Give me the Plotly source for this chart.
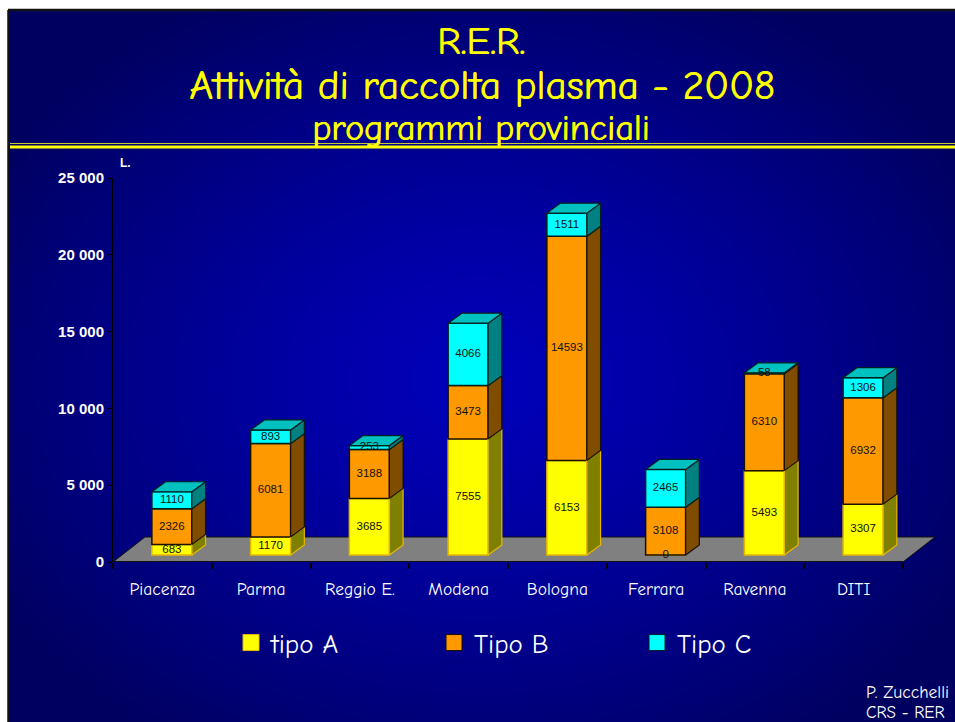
import base64, struct, zlib
import numpy as np
import plotly.graph_objects as go

categories = ["Piacenza", "Parma", "Reggio E.", "Modena", "Bologna", "Ferrara", "Ravenna", "DITI"]
tipo_a = [683, 1170, 3685, 7555, 6153, 0, 5493, 3307]
tipo_b = [2326, 6081, 3188, 3473, 14593, 3108, 6310, 6932]
tipo_c = [1110, 893, 253, 4066, 1511, 2465, 58, 1306]
series_names = ["tipo A", "Tipo B", "Tipo C"]
y_ticks = [0, 5000, 10000, 15000, 20000, 25000]
y_labels = ["0", "5 000", "10 000", "15 000", "20 000", "25 000"]

W, H = 955, 722
L, R, T, B = 113, 935, 178, 562
UX = 98.75            # px per category
UY = (B - T) / 25000  # px per litre
XMAX = (R - L) / UX

def px(x): return (x - L) / (R - L)
def py(y): return (B - y) / (B - T)
def dy(p): return p / UY
def dx(p): return p / UX

BAR_W = dx(40)
BAR_SHIFT_X, BAR_SHIFT_Y = dx(9.5), dy(7)
DEPTH_X, DEPTH_Y = dx(13.7), dy(10)
FLOOR_X, FLOOR_Y = dx(32), dy(25)

FONT = "Comic Sans MS, Comic Neue, Lato, sans-serif"
ARIAL = "Liberation Sans, Arial, sans-serif"

# page background: elliptical blue gradient
def background_png(w, h):
    yy, xx = np.mgrid[0:h, 0:w]
    r = np.sqrt(((xx - 472) / 560.0) ** 2 + ((yy - 370) / 440.0) ** 2)
    t = np.clip(r, 0, 1) ** 1.3
    blue = (186 + (96 - 186) * t).astype(np.uint8)
    img = np.zeros((h, w, 3), np.uint8)
    img[..., 2] = blue
    raw = b"".join(b"\x00" + img[i].tobytes() for i in range(h))
    def chunk(tag, data):
        c = struct.pack(">I", len(data)) + tag + data
        return c + struct.pack(">I", zlib.crc32(tag + data) & 0xffffffff)
    png = b"\x89PNG\r\n\x1a\n" + chunk(b"IHDR", struct.pack(">IIBBBBB", w, h, 8, 2, 0, 0, 0)) \
        + chunk(b"IDAT", zlib.compress(raw, 9)) + chunk(b"IEND", b"")
    return "data:image/png;base64," + base64.b64encode(png).decode()

n = len(categories)
xc = [i + 0.5 + BAR_SHIFT_X for i in range(n)]
series = [tipo_a, tipo_b, tipo_c]
front = ["#FFFF00", "#FF9900", "#00FFFF"]
side = ["#808000", "#804D00", "#008080"]
edge = ["#E6B800", "#1A1000", "#002020"]

fig = go.Figure()
base = [BAR_SHIFT_Y] * n
label_x, label_y, label_t = [], [], []
for s, vals in enumerate(series):
    fig.add_trace(go.Bar(x=xc, y=vals, base=base, width=BAR_W, showlegend=False,
                         marker=dict(color=front[s], line=dict(color=edge[s], width=1.5)),
                         hoverinfo="skip"))
    sx, sy = [], []
    for i, v in enumerate(vals):
        label_x.append(xc[i]); label_y.append(base[i] + v / 2); label_t.append(str(v))
        if v > 0:
            x1 = xc[i] + BAR_W / 2
            sx += [x1, x1 + DEPTH_X, x1 + DEPTH_X, x1, x1, None]
            sy += [base[i], base[i] + DEPTH_Y, base[i] + v + DEPTH_Y, base[i] + v, base[i], None]
    fig.add_trace(go.Scatter(x=sx, y=sy, mode="lines", fill="toself", fillcolor=side[s],
                             line=dict(color=edge[s], width=1.2), showlegend=False, hoverinfo="skip"))
    base = [b + v for b, v in zip(base, vals)]

# top faces
tx, ty = [], []
for i in range(n):
    x0, x1 = xc[i] - BAR_W / 2, xc[i] + BAR_W / 2
    tx += [x0, x1, x1 + DEPTH_X, x0 + DEPTH_X, x0, None]
    ty += [base[i], base[i], base[i] + DEPTH_Y, base[i] + DEPTH_Y, base[i], None]
fig.add_trace(go.Scatter(x=tx, y=ty, mode="lines", fill="toself", fillcolor="#00C0C0",
                         line=dict(color="#002020", width=1.2), showlegend=False, hoverinfo="skip"))

# value labels
fig.add_trace(go.Scatter(x=label_x, y=label_y, text=label_t, mode="text", textposition="middle center",
                         textfont=dict(family=ARIAL, size=11.5, color="#111111"),
                         showlegend=False, hoverinfo="skip"))

# legend entries
for s, name in enumerate(series_names):
    fig.add_trace(go.Scatter(x=[None], y=[None], mode="markers", name=name,
                             marker=dict(symbol="square", size=16, color=front[s],
                                         line=dict(color=edge[s], width=1))))

shapes = [
    # frame
    dict(type="line", xref="paper", yref="paper", x0=px(8.5), x1=px(8.5), y0=py(10), y1=py(H), line=dict(color="#111", width=2.5)),
    dict(type="line", xref="paper", yref="paper", x0=px(8), x1=px(W), y0=py(10), y1=py(10), line=dict(color="#111", width=2.5)),
    # double rule under the title
    dict(type="line", xref="paper", yref="paper", x0=px(10), x1=px(W), y0=py(143.5), y1=py(143.5), line=dict(color="#C8C830", width=1)),
    dict(type="line", xref="paper", yref="paper", x0=px(10), x1=px(W), y0=py(147), y1=py(147), line=dict(color="#FFFF00", width=3)),
    # floor
    dict(type="path", xref="x", yref="y", layer="below",
         path=f"M0,0 L{n},0 L{n + FLOOR_X},{FLOOR_Y} L{FLOOR_X},{FLOOR_Y} Z",
         fillcolor="#808080", line=dict(color="#101010", width=1)),
    dict(type="line", xref="x", yref="y", layer="below", x0=0, x1=n, y0=0, y1=0, line=dict(color="#101010", width=2)),
]

annotations = [
    dict(text="R.E.R.", x=481, y=42, size=39, color="#FFFF00"),
    dict(text="Attività di raccolta plasma - 2008", x=482, y=85, size=41, color="#FFFF00"),
    dict(text="programmi provinciali", x=481, y=128, size=36, color="#FFFF00"),
]
anns = [dict(text=a["text"], xref="paper", yref="paper", x=px(a["x"]), y=py(a["y"]), showarrow=False,
             xanchor="center", yanchor="middle",
             font=dict(family=FONT, size=a["size"], color=a["color"], shadow="0.7px 0 0 #FFFF00"))
        for a in annotations]
anns.append(dict(text="L.", xref="paper", yref="paper", x=px(118), y=py(163), showarrow=False, xanchor="left",
                 yanchor="middle", font=dict(family=ARIAL, size=12, color="white", weight=700)))
anns.append(dict(text="P. Zucchelli", xref="paper", yref="paper", x=px(951), y=py(692), showarrow=False, xanchor="right",
                 yanchor="middle", font=dict(family=FONT, size=17.5, color="white")))
anns.append(dict(text="CRS - RER", xref="paper", yref="paper", x=px(947), y=py(712), showarrow=False, xanchor="right",
                 yanchor="middle", font=dict(family=FONT, size=17, color="white")))

fig.update_layout(
    width=W, height=H, autosize=False,
    margin=dict(l=L, r=W - R, t=T, b=H - B, pad=0),
    paper_bgcolor="white", plot_bgcolor="rgba(0,0,0,0)",
    barmode="overlay", shapes=shapes, annotations=anns,
    images=[dict(source=background_png(W - 8, H - 10), xref="paper", yref="paper", x=px(8), y=py(10),
                 sizex=(W - 8) / (R - L), sizey=(H - 10) / (B - T), xanchor="left", yanchor="top",
                 sizing="stretch", layer="below")],
    legend=dict(orientation="h", x=px(231), y=py(643), xanchor="left", yanchor="middle",
                font=dict(family=FONT, size=27, color="white"), bgcolor="rgba(0,0,0,0)",
                entrywidth=158, entrywidthmode="pixels", itemsizing="trace", itemclick=False),
    xaxis=dict(range=[0, XMAX], showgrid=False, zeroline=False, showline=False, fixedrange=True,
               tickvals=[i + 0.5 for i in range(n)], ticktext=categories,
               ticks="outside", ticklen=11, tickcolor="rgba(0,0,0,0)",
               tickfont=dict(family=FONT, size=17.5, color="white"),
               minor=dict(tickvals=list(range(n + 1)), ticks="outside", ticklen=6, tickcolor="#000000", tickwidth=1.5, showgrid=False)),
    yaxis=dict(range=[0, 25000], showgrid=False, zeroline=False, showline=True, linecolor="#000", linewidth=1, fixedrange=True,
               tickvals=y_ticks, ticktext=y_labels, ticks="outside", ticklen=5, tickcolor="#000",
               tickfont=dict(family=ARIAL, size=15, color="white", weight=700)),
    showlegend=True,
)

fig.write_html("out.html", config={"displayModeBar": False},
               post_script="document.body.style.margin='0';document.documentElement.style.overflow='hidden';")
